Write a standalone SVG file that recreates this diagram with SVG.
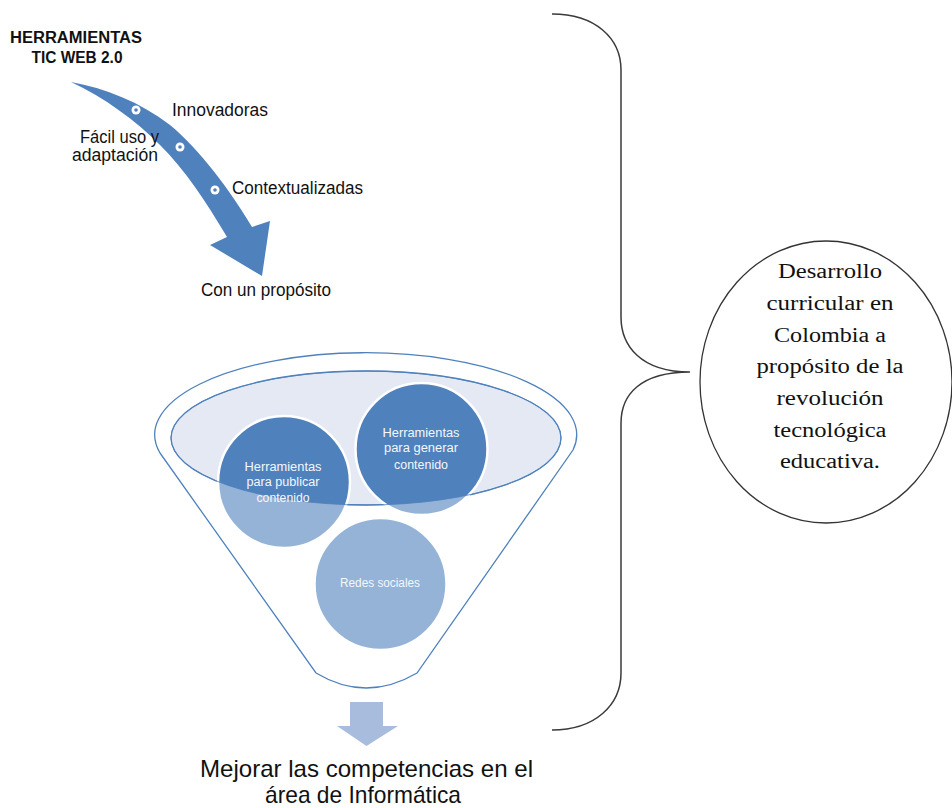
<svg xmlns="http://www.w3.org/2000/svg" width="952" height="808" viewBox="0 0 952 808">
<style>
.lbl{font-family:"Liberation Sans",Arial,sans-serif;fill:#111;}
.ser{font-family:"Liberation Serif","Times New Roman",serif;fill:#111;font-size:20.5px;}
.ctx{font-family:"Liberation Sans",Arial,sans-serif;fill:#f4f7fb;font-size:12px;}
.blue{fill:#4f81bd;}
.light{fill:#95b3d7;}
.ring{fill:none;stroke:#ffffff;stroke-width:2.5;}
.brace{fill:none;stroke:#3a3a3a;stroke-width:1.5;}
</style>
<defs>
<clipPath id="inner"><ellipse cx="366" cy="438" rx="195" ry="67"/></clipPath>
</defs>
<rect x="0" y="0" width="952" height="808" fill="#ffffff"/>

<g id="connectors">
  <path id="curved-arrow" class="blue" d="M71,82 C105,88 140,102 170,125 C200,150 230,190 252,227 L270,221 L262,276 L210,245 L227,237 C205,200 185,170 160,145 C135,120 105,98 71,82 Z"/>
  <g id="arrow-dots">
    <circle cx="136" cy="110" r="4.5" fill="#ffffff"/><circle cx="136" cy="110" r="1.8" class="blue"/>
    <circle cx="180" cy="147" r="4.5" fill="#ffffff"/><circle cx="180" cy="147" r="1.8" class="blue"/>
    <circle cx="215" cy="190" r="4.5" fill="#ffffff"/><circle cx="215" cy="190" r="1.8" class="blue"/>
  </g>
  <path id="down-arrow" fill="#a8bddd" d="M350,702 L383,702 L383,726 L398,726 L366.5,746 L337,726 L350,726 Z"/>
  <path id="brace" class="brace" d="M552,14 C595,14 621,38 621,70 L621,317 C621,345 640,372 690,372 C640,372 621,395 621,423 L621,673 C621,705 595,730 552,730"/>
</g>

<g id="title">
  <text class="lbl" x="76" y="43" font-size="16" font-weight="bold" text-anchor="middle" textLength="132" lengthAdjust="spacingAndGlyphs">HERRAMIENTAS</text>
  <text class="lbl" x="77" y="63" font-size="16" font-weight="bold" text-anchor="middle" textLength="91" lengthAdjust="spacingAndGlyphs">TIC WEB 2.0</text>
</g>

<g id="arrow-labels">
  <text class="lbl" x="172" y="116" font-size="17.5" textLength="96" lengthAdjust="spacingAndGlyphs">Innovadoras</text>
  <text class="lbl" x="80" y="143" font-size="17.5" textLength="79" lengthAdjust="spacingAndGlyphs">Fácil uso y</text>
  <text class="lbl" x="72" y="161" font-size="17.5" textLength="86" lengthAdjust="spacingAndGlyphs">adaptación</text>
  <text class="lbl" x="232" y="194" font-size="17.5" textLength="131" lengthAdjust="spacingAndGlyphs">Contextualizadas</text>
  <text class="lbl" x="201" y="296" font-size="17.5" textLength="130" lengthAdjust="spacingAndGlyphs">Con un propósito</text>
</g>

<g id="funnel">
  <path d="M160,453 L316,673 Q366,703 417,673 L573,450 A211,82 0 1 0 160,453 Z" fill="#ffffff" stroke="#4f81bd" stroke-width="1.3"/>
  <ellipse cx="366" cy="438" rx="195" ry="67" fill="#e4e9f3" stroke="#4f81bd" stroke-width="1.3"/>
</g>

<g id="node-publicar">
  <circle cx="284" cy="482" r="66" class="light"/>
  <circle cx="284" cy="482" r="66" class="blue" clip-path="url(#inner)"/>
  <circle cx="284" cy="482" r="66" class="ring"/>
</g>
<g id="node-generar">
  <circle cx="421.5" cy="449" r="66" class="light"/>
  <circle cx="421.5" cy="449" r="66" class="blue" clip-path="url(#inner)"/>
  <circle cx="421.5" cy="449" r="66" class="ring"/>
</g>
<g id="node-redes">
  <circle cx="380.5" cy="584" r="66" class="light"/>
  <circle cx="380.5" cy="584" r="66" class="ring"/>
</g>
<ellipse cx="366" cy="438" rx="195" ry="67" fill="none" stroke="#4f81bd" stroke-width="1" opacity="0.8"/>

<g id="circle-texts">
  <text class="ctx" x="283" y="471" text-anchor="middle" textLength="77" lengthAdjust="spacingAndGlyphs">Herramientas</text>
  <text class="ctx" x="283" y="486" text-anchor="middle" textLength="73" lengthAdjust="spacingAndGlyphs">para publicar</text>
  <text class="ctx" x="283" y="502" text-anchor="middle" textLength="53" lengthAdjust="spacingAndGlyphs">contenido</text>
  <text class="ctx" x="421" y="437" text-anchor="middle" textLength="77" lengthAdjust="spacingAndGlyphs">Herramientas</text>
  <text class="ctx" x="421" y="452" text-anchor="middle" textLength="74" lengthAdjust="spacingAndGlyphs">para generar</text>
  <text class="ctx" x="421" y="469" text-anchor="middle" textLength="54" lengthAdjust="spacingAndGlyphs">contenido</text>
  <text class="ctx" x="380" y="587" text-anchor="middle" textLength="80" lengthAdjust="spacingAndGlyphs">Redes sociales</text>
</g>

<g id="result">
  <text class="lbl" x="366.5" y="777" font-size="24" text-anchor="middle" textLength="333" lengthAdjust="spacingAndGlyphs">Mejorar las competencias en el</text>
  <text class="lbl" x="363" y="803" font-size="24" text-anchor="middle" textLength="196" lengthAdjust="spacingAndGlyphs">área de Informática</text>
</g>

<g id="node-desarrollo">
  <ellipse cx="826" cy="382" rx="126" ry="141" fill="#ffffff" stroke="#333333" stroke-width="1.3"/>
  <text class="ser" x="830" y="278" text-anchor="middle" textLength="104" lengthAdjust="spacingAndGlyphs">Desarrollo</text>
  <text class="ser" x="830" y="310" text-anchor="middle" textLength="127" lengthAdjust="spacingAndGlyphs">curricular en</text>
  <text class="ser" x="830" y="342" text-anchor="middle" textLength="112" lengthAdjust="spacingAndGlyphs">Colombia a</text>
  <text class="ser" x="830" y="373" text-anchor="middle" textLength="147" lengthAdjust="spacingAndGlyphs">propósito de la</text>
  <text class="ser" x="830" y="405" text-anchor="middle" textLength="107" lengthAdjust="spacingAndGlyphs">revolución</text>
  <text class="ser" x="830" y="437" text-anchor="middle" textLength="113" lengthAdjust="spacingAndGlyphs">tecnológica</text>
  <text class="ser" x="830" y="468" text-anchor="middle" textLength="100" lengthAdjust="spacingAndGlyphs">educativa.</text>
</g>
</svg>
